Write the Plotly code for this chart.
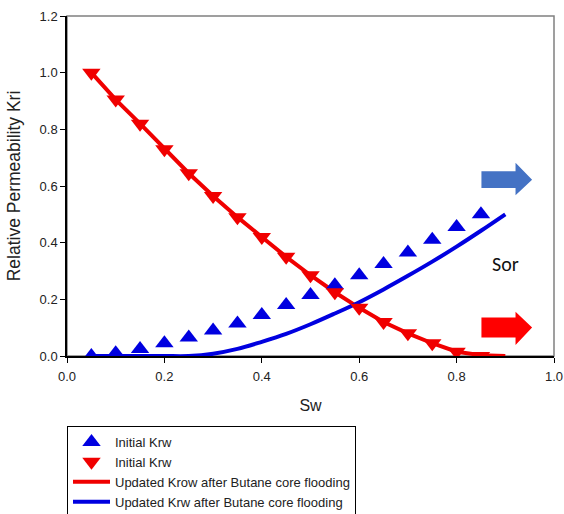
import plotly.graph_objects as go

sw = [0.05, 0.10, 0.15, 0.20, 0.25, 0.30, 0.35, 0.40, 0.45, 0.50, 0.55, 0.60, 0.65, 0.70, 0.75, 0.80, 0.85]
krw_initial = [0.0, 0.01, 0.025, 0.045, 0.065, 0.09, 0.115, 0.145, 0.18, 0.215, 0.25, 0.285, 0.325, 0.365, 0.41, 0.455, 0.50]
krow_initial = [1.0, 0.905, 0.82, 0.73, 0.645, 0.565, 0.49, 0.42, 0.35, 0.285, 0.225, 0.17, 0.12, 0.08, 0.045, 0.015, 0.0]

sw_line = [0.05, 0.10, 0.15, 0.20, 0.25, 0.30, 0.35, 0.40, 0.45, 0.50, 0.55, 0.60, 0.65, 0.70, 0.75, 0.80, 0.85, 0.90]
krow_updated = [1.0, 0.905, 0.82, 0.73, 0.645, 0.565, 0.49, 0.42, 0.35, 0.285, 0.225, 0.17, 0.12, 0.08, 0.045, 0.015, 0.003, 0.0]
krw_updated = [0.0, 0.0, 0.0, 0.0, 0.0, 0.008, 0.025, 0.05, 0.078, 0.112, 0.15, 0.19, 0.235, 0.283, 0.333, 0.386, 0.442, 0.50]

x_ticks = [0.0, 0.2, 0.4, 0.6, 0.8, 1.0]
y_ticks = [0.0, 0.2, 0.4, 0.6, 0.8, 1.0, 1.2]

RED = "#F00000"
BLUE = "#0000E0"

fig = go.Figure()
fig.add_trace(go.Scatter(x=sw_line, y=krow_updated, mode="lines", line=dict(color=RED, width=4),
                         name="Updated Krow after Butane core flooding", legendrank=3))
fig.add_trace(go.Scatter(x=sw_line, y=krw_updated, mode="lines", line=dict(color=BLUE, width=4, shape="spline"),
                         name="Updated Krw after Butane core flooding", legendrank=4))
fig.add_trace(go.Scatter(x=sw, y=krw_initial, mode="markers",
                         marker=dict(symbol="triangle-up", size=16, color=BLUE),
                         name="Initial Krw", legendrank=1))
fig.add_trace(go.Scatter(x=sw, y=krow_initial, mode="markers",
                         marker=dict(symbol="triangle-down", size=16, color=RED),
                         name="Initial Krw", legendrank=2))

# arrows
def arrow(y0, y1, yh0, yh1, color):
    x0, xb, xt = 0.851, 0.921, 0.955
    ym = (y0 + y1) / 2
    return dict(type="path", xref="x", yref="y", fillcolor=color, line=dict(width=0),
                path=f"M {x0} {y0} L {xb} {y0} L {xb} {yh0} L {xt} {ym} L {xb} {yh1} L {xb} {y1} L {x0} {y1} Z")

shapes = [
    arrow(0.652, 0.593, 0.682, 0.567, "#4472C4"),
    arrow(0.136, 0.065, 0.156, 0.039, "#FF0000"),
    dict(type="rect", xref="paper", yref="paper", x0=0, x1=1, y0=0, y1=1,
         line=dict(color="#808080", width=1.5), layer="below"),
]

fig.update_layout(
    width=564, height=514,
    margin=dict(l=67, r=10, t=16, b=158),
    paper_bgcolor="white", plot_bgcolor="white",
    font=dict(family="Arial, Liberation Sans, sans-serif", size=13, color="#222"),
    shapes=shapes,
    annotations=[dict(x=0.9, y=0.326, xref="x", yref="y", text="Sor", showarrow=False,
                      font=dict(family="Carlito, Calibri, Lato, sans-serif", size=20, color="#111"))],
    xaxis=dict(range=[0, 1.0], tickvals=x_ticks, ticktext=[f"{v:.1f}" for v in x_ticks],
               showgrid=False, zeroline=False, showline=True, linecolor="black", linewidth=1.5,
               ticks="outside", ticklen=5, tickcolor="black", automargin=False, ticklabelstandoff=3,
               ticklabeloverflow="allow",
               title=dict(text="Sw", font=dict(size=16), standoff=16)),
    yaxis=dict(range=[0, 1.2], tickvals=y_ticks, ticktext=[f"{v:.1f}" for v in y_ticks],
               showgrid=False, zeroline=False, showline=True, linecolor="black", linewidth=1.5,
               ticks="outside", ticklen=5, tickcolor="black", automargin=False,
               title=dict(text="Relative Permeability Kri", font=dict(size=17.5), standoff=14)),
    legend=dict(x=0, xref="paper", y=1 - 426 / 514, yref="container", xanchor="left", yanchor="top",
                bordercolor="black", borderwidth=1,
                bgcolor="white", font=dict(size=13), tracegroupgap=0, itemwidth=37),
    showlegend=True,
)

fig.write_html("out.html", config={"displayModeBar": False},
               post_script="document.body.style.margin='0';document.body.style.overflow='hidden';")
